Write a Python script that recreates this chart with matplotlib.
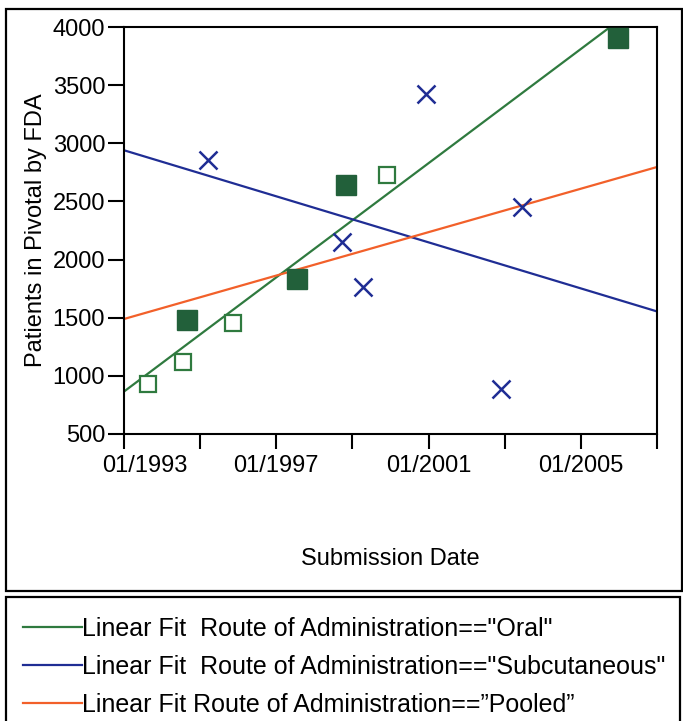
import matplotlib
matplotlib.use("Agg")
import matplotlib.pyplot as plt
from matplotlib.patches import Rectangle
from matplotlib.transforms import ScaledTranslation

plt.rcParams['font.family'] = ['Liberation Sans', 'DejaVu Sans']

# submission date as decimal year, patients in pivotal trials
oral_open_x = [1993.64, 1994.56, 1995.87, 1999.92]
oral_open_y = [928, 1115, 1451, 2724]
oral_filled_x = [1994.66, 1997.55, 1998.83, 2005.97]
oral_filled_y = [1480, 1833, 2644, 3908]
subq_x = [1995.20, 1998.72, 1999.29, 2000.93, 2003.45, 2002.90]
subq_y = [2859, 2155, 1767, 3420, 2451, 890]

# linear fits read at the ends of the axis
fit_x = [1993, 2007]
oral_fit = [865, 4302]
subq_fit = [2940, 1554]
pooled_fit = [1489, 2796]

tick_years = [1993, 1995, 1997, 1999, 2001, 2003, 2005, 2007]
tick_labels = ['01/1993', '', '01/1997', '', '01/2001', '', '01/2005', '']
y_ticks = [500, 1000, 1500, 2000, 2500, 3000, 3500, 4000]

legend_labels = ['Linear Fit  Route of Administration=="Oral"',
                 'Linear Fit  Route of Administration=="Subcutaneous"',
                 'Linear Fit Route of Administration==\u201dPooled\u201d']

green = '#2f7a3f'
dark_green = '#22603a'
blue = '#1f2d94'
orange = '#f2602a'

fig = plt.figure(figsize=(6.83, 7.21), dpi=100)
ax = fig.add_axes([124/683, 1-434/721, 533/683, 407/721])

l_oral, = ax.plot(fit_x, oral_fit, color=green, lw=1.6, label=legend_labels[0], zorder=2)
l_subq, = ax.plot(fit_x, subq_fit, color=blue, lw=1.6, label=legend_labels[1], zorder=2)
l_pool, = ax.plot(fit_x, pooled_fit, color=orange, lw=1.6, label=legend_labels[2], zorder=2)

ax.plot(oral_open_x, oral_open_y, ls='none', marker='s', ms=12, mfc='white',
        mec=green, mew=1.6, zorder=3)
ax.plot(oral_filled_x, oral_filled_y, ls='none', marker='s', ms=14, mfc=dark_green,
        mec=dark_green, zorder=3)
ax.plot(subq_x, subq_y, ls='none', marker='x', ms=13, mec=blue, mew=1.8, zorder=3)

ax.set_xlim(1993, 2007)
ax.set_ylim(500, 4000)
ax.set_xticks(tick_years)
ax.set_xticklabels(tick_labels)
ax.set_yticks(y_ticks)
for s in ax.spines.values():
    s.set_linewidth(1.5)
ax.tick_params(axis='x', length=11, width=1.5, pad=4, labelsize=17)
ax.tick_params(axis='y', length=11.5, width=1.5, pad=2, labelsize=17)

# first date label sits right of its tick in the original
first = ax.get_xticklabels()[0]
first.set_transform(first.get_transform() + ScaledTranslation(0.21, 0, fig.dpi_scale_trans))

ax.set_xlabel('Submission Date', fontsize=17, labelpad=51)
ax.set_ylabel('Patients in Pivotal by FDA', fontsize=17, labelpad=4)

# outer frames
fig.add_artist(Rectangle((6/683, 1-591/721), 676/683, 582/721, transform=fig.transFigure,
                         fill=False, ec='black', lw=1.6))
fig.add_artist(Rectangle((6/683, -0.05), 674/683, 1-597/721+0.05, transform=fig.transFigure,
                         fill=False, ec='black', lw=1.6))

fig.legend(handles=[l_oral, l_subq, l_pool], loc='upper left',
           bbox_to_anchor=(23/683, 1-617/721), frameon=False, fontsize=18,
           handlelength=2.35, handletextpad=0, borderpad=0, borderaxespad=0,
           labelspacing=0.55)

fig.savefig('out.png', dpi=100)
